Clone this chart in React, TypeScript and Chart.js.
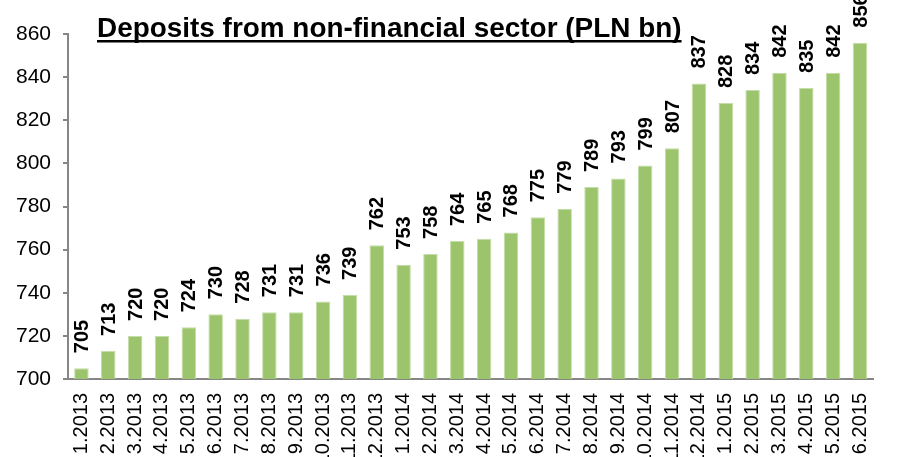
import React, { useEffect, useRef } from "react";
import { Chart, registerables } from "chart.js";

Chart.register(...registerables);

const TITLE = "Deposits from non-financial sector (PLN bn)";

const months: string[] = [
  "1.2013", "2.2013", "3.2013", "4.2013", "5.2013", "6.2013", "7.2013", "8.2013", "9.2013", "10.2013",
  "11.2013", "12.2013", "1.2014", "2.2014", "3.2014", "4.2014", "5.2014", "6.2014", "7.2014", "8.2014",
  "9.2014", "10.2014", "11.2014", "12.2014", "1.2015", "2.2015", "3.2015", "4.2015", "5.2015", "6.2015",
];

const deposits: number[] = [
  705, 713, 720, 720, 724, 730, 728, 731, 731, 736,
  739, 762, 753, 758, 764, 765, 768, 775, 779, 789,
  793, 799, 807, 837, 828, 834, 842, 835, 842, 856,
];

const yMin = 700;
const yMax = 860;
const yStep = 20;

const FONT = '"Liberation Sans", Arial, sans-serif';

const labelPlugin = {
  id: "barLabels",
  afterDatasetsDraw(chart: any) {
    const ctx = chart.ctx;
    const meta = chart.getDatasetMeta(0);
    ctx.save();
    ctx.fillStyle = "#000";
    ctx.font = `bold 20px ${FONT}`;
    ctx.textAlign = "left";
    ctx.textBaseline = "middle";
    meta.data.forEach((el: any, i: number) => {
      ctx.save();
      ctx.translate(el.x + 1, el.y - 15);
      ctx.rotate(-Math.PI / 2);
      ctx.fillText(String(deposits[i]), 0, 0);
      ctx.restore();
    });
    ctx.restore();
  },
};

const titlePlugin = {
  id: "underlinedTitle",
  afterDraw(chart: any) {
    const ctx = chart.ctx;
    ctx.save();
    ctx.font = `bold 26px ${FONT}`;
    const w0 = ctx.measureText(TITLE).width;
    const size = (26 * 585) / w0;
    ctx.font = `bold ${size}px ${FONT}`;
    ctx.fillStyle = "#000";
    ctx.textAlign = "left";
    ctx.textBaseline = "alphabetic";
    const x = 97;
    const y = 37;
    ctx.fillText(TITLE, x, y);
    const w = ctx.measureText(TITLE).width;
    ctx.fillRect(x, y + 3, w, 2.5);
    ctx.restore();
  },
};

export default function App() {
  const ref = useRef<HTMLCanvasElement | null>(null);

  useEffect(() => {
    document.body.style.margin = "0";
    if (!ref.current) return;
    const chart = new Chart(ref.current, {
      type: "bar",
      data: {
        labels: months,
        datasets: [
          {
            data: deposits,
            backgroundColor: "rgb(156,196,108)",
            borderColor: "rgb(196,222,168)",
            borderWidth: 1,
            barPercentage: 0.54,
            categoryPercentage: 1,
          },
        ],
      },
      options: {
        responsive: false,
        animation: false,
        layout: { padding: { top: 34, left: 0, right: 0, bottom: 0 } },
        plugins: {
          legend: { display: false },
          title: { display: false },
          tooltip: { enabled: false },
        },
        scales: {
          x: {
            grid: { display: false, drawTicks: false },
            border: { display: true, color: "#868686", width: 2 },
            ticks: {
              autoSkip: false,
              minRotation: 90,
              maxRotation: 90,
              padding: 14,
              color: "#000",
              font: { size: 20, family: FONT },
            },
            afterFit(scale: any) {
              scale.height = 78;
            },
          },
          y: {
            min: yMin,
            max: yMax,
            grid: {
              display: true,
              drawOnChartArea: false,
              drawTicks: true,
              tickLength: 5,
              color: "#868686",
              lineWidth: 2,
            },
            border: { display: true, color: "#868686", width: 2 },
            ticks: {
              stepSize: yStep,
              padding: 12,
              color: "#000",
              font: { size: 21, family: FONT },
            },
            afterFit(scale: any) {
              scale.width = 68;
            },
          },
        },
      },
      plugins: [labelPlugin, titlePlugin],
    });
    return () => chart.destroy();
  }, []);

  return (
    <div style={{ width: 898, height: 457 }}>
      <canvas ref={ref} width={898} height={457} style={{ display: "block" }} />
    </div>
  );
}
